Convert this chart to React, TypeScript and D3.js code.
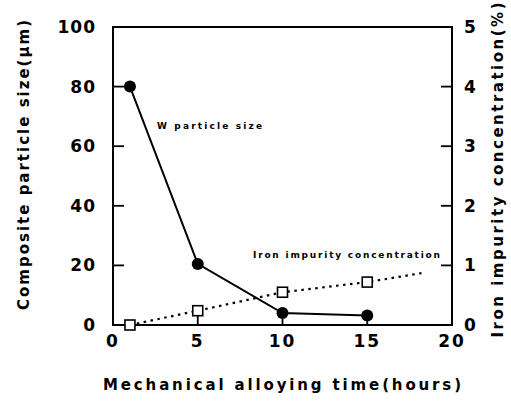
import React from "react";
import * as d3 from "d3";

const xTicks = [0, 5, 10, 15, 20];
const yLeftTicks = [0, 20, 40, 60, 80, 100];
const yRightTicks = [0, 1, 2, 3, 4, 5];

const wTime = [1, 5, 10, 15];
const wSize = [80, 20.5, 4, 3.2];

const feTime = [1, 5, 10, 15];
const feConc = [0, 0.24, 0.55, 0.72];
const feTrendEnd = { t: 18.2, c: 0.87 };

const W = 511, H = 407;
const L = 113, R = 452, T = 27, B = 325;

export default function App() {
  const x = d3.scaleLinear().domain([0, 20]).range([L, R]);
  const yL = d3.scaleLinear().domain([0, 100]).range([B, T]);
  const yR = d3.scaleLinear().domain([0, 5]).range([B, T]);

  const wLine = d3.line<number>().x((_, i) => x(wTime[i])).y((d) => yL(d));
  const fePts: [number, number][] = feTime.map((t, i) => [t, feConc[i]]);
  fePts.push([feTrendEnd.t, feTrendEnd.c]);
  const feLine = d3.line<[number, number]>().x((d) => x(d[0])).y((d) => yR(d[1]));

  const font = "'DejaVu Sans', 'Liberation Sans', sans-serif";

  return (
    <svg width={W} height={H} style={{ position: "absolute", left: 0, top: 0, background: "#fff" }} fontFamily={font}>
      <rect x={0} y={0} width={W} height={H} fill="#fff" />
      {/* frame */}
      <rect x={L} y={T} width={R - L} height={B - T} fill="none" stroke="#000" strokeWidth={2} />
      {/* ticks */}
      {xTicks.slice(1, -1).map((t) => (
        <line key={"xt" + t} x1={x(t)} x2={x(t)} y1={B} y2={B - 12} stroke="#000" strokeWidth={1.8} />
      ))}
      {yLeftTicks.slice(1, -1).map((t) => (
        <line key={"ylt" + t} x1={L} x2={L + 11} y1={yL(t)} y2={yL(t)} stroke="#000" strokeWidth={1.8} />
      ))}
      {yRightTicks.slice(1, -1).map((t) => (
        <line key={"yrt" + t} x1={R} x2={R - 11} y1={yR(t)} y2={yR(t)} stroke="#000" strokeWidth={1.8} />
      ))}
      {/* tick labels */}
      {xTicks.map((t) => (
        <text key={"xl" + t} x={x(t)} y={B + 22} textAnchor="middle" fontSize={17} fontWeight="bold" letterSpacing={2}>
          {t}
        </text>
      ))}
      {yLeftTicks.map((t) => (
        <text key={"yll" + t} x={96} y={yL(t) + 6} textAnchor="end" fontSize={17} fontWeight="bold" letterSpacing={1}>
          {t}
        </text>
      ))}
      {yRightTicks.map((t) => (
        <text key={"yrl" + t} x={464} y={yR(t) + 6} textAnchor="start" fontSize={17} fontWeight="bold">
          {t}
        </text>
      ))}
      {/* axis titles */}
      <text x={282} y={390} textAnchor="middle" fontSize={15} fontWeight="bold" textLength={358} lengthAdjust="spacing">
        Mechanical alloying time(hours)
      </text>
      <text transform={`translate(29,165) rotate(-90)`} textAnchor="middle" fontSize={15} fontWeight="bold" textLength={290} lengthAdjust="spacing">
        Composite particle size(μm)
      </text>
      <text transform={`translate(503,170) rotate(-90)`} textAnchor="middle" fontSize={15} fontWeight="bold" textLength={335} lengthAdjust="spacing">
        Iron impurity concentration(%)
      </text>
      {/* series */}
      <path d={feLine(fePts) || ""} fill="none" stroke="#000" strokeWidth={2.2} strokeDasharray="2.5 4.5" />
      <path d={wLine(wSize) || ""} fill="none" stroke="#000" strokeWidth={2} />
      {wSize.map((v, i) => (
        <circle key={"w" + i} cx={x(wTime[i])} cy={yL(v)} r={6} fill="#000" />
      ))}
      {feConc.map((v, i) => (
        <rect key={"fe" + i} x={x(feTime[i]) - 5} y={yR(v) - 5} width={10} height={10} fill="#fff" stroke="#000" strokeWidth={1.6} />
      ))}
      {/* annotations */}
      <text x={157} y={129} fontSize={9} fontWeight="bold" textLength={105} lengthAdjust="spacing">
        W particle size
      </text>
      <text x={253} y={258} fontSize={9} fontWeight="bold" textLength={187} lengthAdjust="spacing">
        Iron impurity concentration
      </text>
    </svg>
  );
}
